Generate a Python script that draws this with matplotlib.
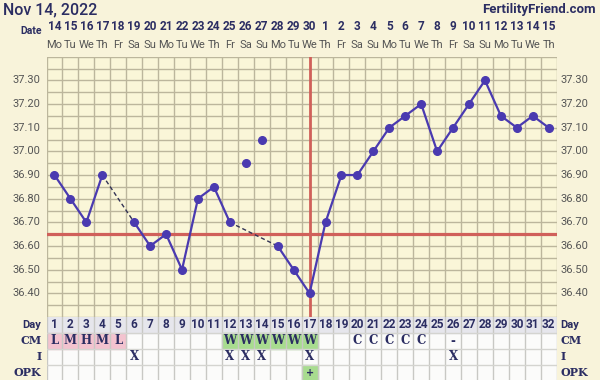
import numpy as np
import matplotlib.pyplot as plt
from matplotlib.patches import Rectangle
from matplotlib.transforms import blended_transform_factory

# chart data
days = np.arange(1, 33)
dates = [14, 15, 16, 17, 18, 19, 20, 21, 22, 23, 24, 25, 26, 27, 28, 29, 30,
         1, 2, 3, 4, 5, 6, 7, 8, 9, 10, 11, 12, 13, 14, 15]
weekdays = ["Mo", "Tu", "We", "Th", "Fr", "Sa", "Su"] * 5
temps = [36.90, 36.80, 36.70, 36.90, np.nan, 36.70, 36.60, 36.65, 36.50, 36.80,
         36.85, 36.70, 36.95, 37.05, 36.60, 36.50, 36.40, 36.70, 36.90, 36.90,
         37.00, 37.10, 37.15, 37.20, 37.00, 37.10, 37.20, 37.30, 37.15, 37.10,
         37.15, 37.10]
discarded = [13, 14]
coverline = 36.65
ovulation_day = 17
cm = ["L", "M", "H", "M", "L", "", "", "", "", "", "", "W", "W", "W", "W", "W",
      "W", "", "", "C", "C", "C", "C", "C", "", "-", "", "", "", "", "", ""]
intercourse = [6, 12, 13, 14, 17, 26]
opk = {17: "+"}
yticks = [36.40, 36.50, 36.60, 36.70, 36.80, 36.90, 37.00, 37.10, 37.20, 37.30]

navy = "#2b2d62"
grey = "#555555"
gridc = "#bcb69c"
linec = "#4a3ab0"
redc = "#d0605a"
pink = "#f3c3cf"
green = "#a8dc8f"

W, H = 600, 380
fig = plt.figure(figsize=(6, 3.8), dpi=100, facecolor="#f8f3da")
L, R, T, B = 46.5, 556.7, 56.7, 317.0
AW = R - L
ax = fig.add_axes([L / W, (H - B) / H, AW / W, (B - T) / H])
ax.set_facecolor("#faf6d8")
ax.set_xlim(0.5, 32.5)
ax.set_ylim(36.30, 37.40)
for s in ax.spines.values():
    s.set_visible(False)
ax.set_xticks([])
ax.set_yticks([])

for x in np.arange(0.5, 33, 1):
    ax.axvline(x, color=gridc, lw=1.0, zorder=1)
for y in np.arange(36.30, 37.41, 0.05):
    ax.axhline(y, color=gridc, lw=1.0, zorder=1)

ytf = blended_transform_factory(ax.transAxes, ax.transData)
for y in yticks:
    ax.text(-6 / AW, y, f"{y:.2f}", transform=ytf, ha="right", va="center",
            fontsize=8, color=grey, family="Roboto")
    ax.text(1 + 4 / AW, y, f"{y:.2f}", transform=ytf, ha="left", va="center",
            fontsize=8, color=grey, family="Roboto")

ax.axhline(coverline, color=redc, lw=2.3, zorder=2)
ax.axvline(ovulation_day, color=redc, lw=2.0, zorder=2)

# temperatures: solid where consecutive, dashed over gaps
t = np.array(temps, dtype=float)
valid = ~np.isnan(t) & ~np.isin(days, discarded)
solid = np.where(valid, t, np.nan)
ax.plot(days, solid, color=linec, lw=1.6, zorder=3)
vd = days[valid]
for a, b in zip(vd[:-1], vd[1:]):
    if b - a > 1:
        ax.plot([a, b], [t[a - 1], t[b - 1]], color="#333355", lw=1.0, ls=(0, (3, 2)), zorder=3)
mask = ~np.isnan(t)
ax.plot(days[mask], t[mask], "o", color=linec, ms=5.5, zorder=4)

# header
tf = blended_transform_factory(ax.transData, fig.transFigure)
fig.text(42 / W, 1 - 31 / H, "Date", ha="right", va="center", fontsize=7.5,
         color=navy, weight="bold", family="Roboto")
for d, dt, wd in zip(days, dates, weekdays):
    ax.text(d, 1 - 27 / H, str(dt), transform=tf, ha="center", va="center",
            fontsize=8.5, color=navy, weight="bold", family="Roboto")
    ax.text(d, 1 - 45 / H, wd, transform=tf, ha="center", va="center",
            fontsize=8, color=grey, family="Roboto")
fig.text(3 / W, 1 - 10 / H, "Nov 14, 2022", ha="left", va="center", fontsize=11.5,
         color=navy, family="Roboto", weight="medium")
fig.text(596 / W, 1 - 9 / H, "FertilityFriend.com", ha="right", va="center",
         fontsize=9.5, color=navy, family="Roboto", weight="bold")

# table below
tb = fig.add_axes([L / W, (H - B - 64) / H, AW / W, 64 / H])
tb.set_xlim(0.5, 32.5)
tb.set_ylim(4, 0)
tb.set_facecolor("#fbfbfa")
tb.set_xticks([])
tb.set_yticks([])
for s in tb.spines.values():
    s.set_visible(False)
tb.add_patch(Rectangle((0.5, 0), 32, 1, color="#e6e6ec", zorder=0))
for d, c in zip(days, cm):
    if c in ("L", "M", "H"):
        tb.add_patch(Rectangle((d - 0.5, 1), 1, 1, color=pink, zorder=0))
    elif c == "W":
        tb.add_patch(Rectangle((d - 0.5, 1), 1, 1, color=green, zorder=0))
for d in opk:
    tb.add_patch(Rectangle((d - 0.5, 3), 1, 1, color=green, zorder=0))
for x in np.arange(0.5, 33, 1):
    tb.axvline(x, color="#c8c8c4", lw=1.0, zorder=1)
for y in range(1, 4):
    tb.axhline(y, color="#d4d4d0", lw=1.0, zorder=1)

for d in days:
    tb.text(d, 0.5, str(d), ha="center", va="center", fontsize=8.5, color=navy,
            weight="bold", family="Roboto")
for d, c in zip(days, cm):
    if c:
        tb.text(d, 1.5, c, ha="center", va="center", fontsize=8.5, color=navy,
                weight="bold", family="DejaVu Serif")
for d in intercourse:
    tb.text(d, 2.5, "X", ha="center", va="center", fontsize=8.5, color=navy,
            weight="bold", family="DejaVu Serif")
for d, v in opk.items():
    tb.text(d, 3.5, v, ha="center", va="center", fontsize=7, color=navy, weight="bold")

row_labels = ["Day", "CM", "I", "OPK"]
rtf = blended_transform_factory(tb.transAxes, tb.transData)
for i, lab in enumerate(row_labels):
    fam = "Roboto" if lab == "Day" else "DejaVu Serif"
    tb.text(-5 / AW, i + 0.5, lab, ha="right", va="center", fontsize=8, color=navy,
            weight="bold", family=fam, clip_on=False, transform=rtf)
    tb.text(1 + 4 / AW, i + 0.5, lab, ha="left", va="center", fontsize=8, color=navy,
            weight="bold", family=fam, clip_on=False, transform=rtf)

fig.savefig("out.png", dpi=100, facecolor=fig.get_facecolor())
